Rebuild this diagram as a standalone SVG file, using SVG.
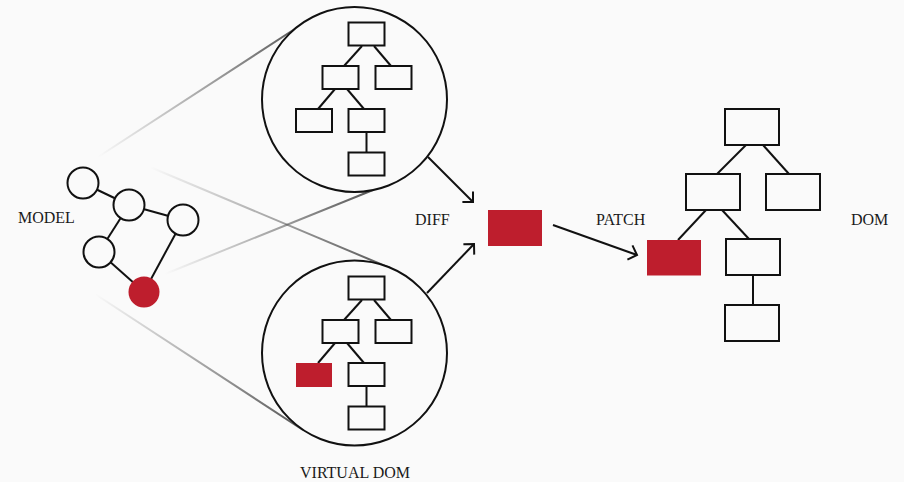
<svg xmlns="http://www.w3.org/2000/svg" width="904" height="482" viewBox="0 0 904 482">
  <style>
    .bg { fill: #fafafa; }
    .ln { stroke: #111; stroke-width: 2; fill: none; }
    .box { fill: #fafafa; stroke: #111; stroke-width: 2; }
    .node { fill: #fafafa; stroke: #111; stroke-width: 2; }
    .hot { fill: #be1e2d; }
    .lbl { font-family: "Liberation Serif", "Times New Roman", serif; font-size: 16px; fill: #1a1a1a; }
  </style>
  <defs>
    <marker id="chev" markerUnits="userSpaceOnUse" markerWidth="20" markerHeight="20" refX="10" refY="10" orient="auto" overflow="visible">
      <path d="M2.5,2.5 L10,10 L2.5,17.5" fill="none" stroke="#111" stroke-width="2"/>
    </marker>
    <linearGradient id="g1" gradientUnits="userSpaceOnUse" x1="98" y1="157" x2="304" y2="23">
      <stop offset="0" stop-color="#555" stop-opacity="0"/>
      <stop offset="1" stop-color="#555" stop-opacity="1"/>
    </linearGradient>
    <linearGradient id="g2" gradientUnits="userSpaceOnUse" x1="150" y1="167" x2="390" y2="268">
      <stop offset="0" stop-color="#555" stop-opacity="0"/>
      <stop offset="1" stop-color="#555" stop-opacity="1"/>
    </linearGradient>
    <linearGradient id="g3" gradientUnits="userSpaceOnUse" x1="165" y1="274" x2="373" y2="190">
      <stop offset="0" stop-color="#555" stop-opacity="0"/>
      <stop offset="1" stop-color="#555" stop-opacity="1"/>
    </linearGradient>
    <linearGradient id="g4" gradientUnits="userSpaceOnUse" x1="95" y1="294" x2="303" y2="430">
      <stop offset="0" stop-color="#555" stop-opacity="0"/>
      <stop offset="1" stop-color="#555" stop-opacity="1"/>
    </linearGradient>
  </defs>

  <rect class="bg" x="0" y="0" width="904" height="482"/>

  <!-- fading projection lines from the model to the two trees -->
  <g id="projections" stroke-width="2" fill="none">
    <line x1="98" y1="157" x2="304" y2="23" stroke="url(#g1)"/>
    <line x1="150" y1="167" x2="390" y2="268" stroke="url(#g2)"/>
    <line x1="165" y1="274" x2="373" y2="190" stroke="url(#g3)"/>
    <line x1="95" y1="294" x2="303" y2="430" stroke="url(#g4)"/>
  </g>

  <!-- model graph -->
  <g id="model">
    <g class="ln">
      <line x1="83" y1="183" x2="129" y2="205"/>
      <line x1="129" y1="205" x2="183" y2="220"/>
      <line x1="129" y1="205" x2="99" y2="252"/>
      <line x1="99" y1="252" x2="144" y2="292"/>
      <line x1="183" y1="220" x2="144" y2="292"/>
    </g>
    <circle class="node" cx="83" cy="183" r="15.5"/>
    <circle class="node" cx="129" cy="205" r="15.5"/>
    <circle class="node" cx="183" cy="220" r="15.5"/>
    <circle class="node" cx="99" cy="252" r="15.5"/>
    <circle class="hot" cx="144" cy="292" r="15.5"/>
    <text class="lbl" x="18" y="223">MODEL</text>
  </g>

  <!-- previous virtual tree -->
  <g id="vtree-old">
    <circle class="node" cx="354.5" cy="99.5" r="92.5"/>
    <g class="ln">
      <line x1="362" y1="46" x2="344" y2="66"/>
      <line x1="374" y1="46" x2="391" y2="66"/>
      <line x1="335" y1="89" x2="318" y2="109"/>
      <line x1="347" y1="89" x2="364" y2="109"/>
      <line x1="366.5" y1="132" x2="366.5" y2="152"/>
    </g>
    <rect class="box" x="348.5" y="22.5" width="36" height="23"/>
    <rect class="box" x="322.5" y="66" width="36" height="23"/>
    <rect class="box" x="375.5" y="66" width="36" height="23"/>
    <rect class="box" x="296" y="109" width="36" height="23"/>
    <rect class="box" x="348.5" y="109" width="36" height="23"/>
    <rect class="box" x="348.5" y="152.5" width="36" height="23"/>
  </g>

  <!-- new virtual tree -->
  <g id="vtree-new">
    <circle class="node" cx="354.5" cy="353" r="92.5"/>
    <g class="ln">
      <line x1="362" y1="300" x2="344" y2="320"/>
      <line x1="374" y1="300" x2="391" y2="320"/>
      <line x1="335" y1="343" x2="318" y2="363"/>
      <line x1="347" y1="343" x2="364" y2="363"/>
      <line x1="366.5" y1="386" x2="366.5" y2="406"/>
    </g>
    <rect class="box" x="348.5" y="276.5" width="36" height="23"/>
    <rect class="box" x="322.5" y="320" width="36" height="23"/>
    <rect class="box" x="375.5" y="320" width="36" height="23"/>
    <rect class="hot" x="296" y="363" width="36" height="24"/>
    <rect class="box" x="348.5" y="363" width="36" height="23"/>
    <rect class="box" x="348.5" y="406.5" width="36" height="23"/>
    <text class="lbl" x="300" y="478">VIRTUAL DOM</text>
  </g>

  <!-- diff result -->
  <g id="diff">
    <rect class="hot" x="488" y="210" width="54" height="36"/>
    <text class="lbl" x="415" y="225">DIFF</text>
  </g>

  <!-- real DOM tree -->
  <g id="dom">
    <g class="ln">
      <line x1="746" y1="145" x2="717" y2="174"/>
      <line x1="763" y1="145" x2="789" y2="174"/>
      <line x1="706" y1="210" x2="678" y2="240"/>
      <line x1="722" y1="210" x2="749" y2="239"/>
      <line x1="753" y1="275" x2="753" y2="305"/>
    </g>
    <rect class="box" x="725" y="109" width="54" height="36"/>
    <rect class="box" x="686" y="174" width="54" height="36"/>
    <rect class="box" x="766" y="174" width="54" height="36"/>
    <rect class="hot" x="647" y="240" width="54" height="35.5"/>
    <rect class="box" x="726" y="239" width="54" height="36"/>
    <rect class="box" x="725" y="305" width="54" height="36"/>
    <text class="lbl" x="851" y="225">DOM</text>
  </g>

  <!-- arrows -->
  <g id="connectors" class="ln">
    <line x1="428" y1="157" x2="473" y2="202" marker-end="url(#chev)"/>
    <line x1="427" y1="293" x2="474" y2="244" marker-end="url(#chev)"/>
    <line x1="553" y1="225" x2="637" y2="255" marker-end="url(#chev)"/>
    <text class="lbl" x="596" y="225" stroke="none">PATCH</text>
  </g>
</svg>
